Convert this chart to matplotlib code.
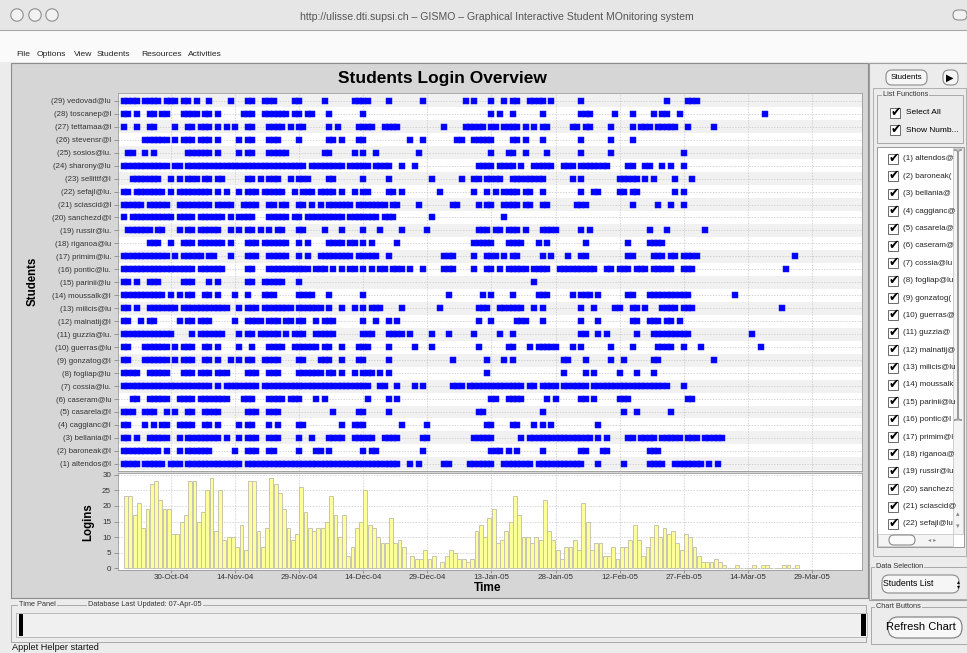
import matplotlib
matplotlib.use("Agg")
import matplotlib.pyplot as plt
from matplotlib.patches import Rectangle, FancyBboxPatch, Circle
from matplotlib.path import Path
import numpy as np
from datetime import datetime

W, H = 967, 653
plt.rcParams['font.family'] = ['Liberation Sans', 'DejaVu Sans']

# ---------------- data ----------------
start_date = "19-Oct-04"

students = ["(1) altendos@l", "(2) baroneak@l", "(3) bellania@l", "(4) caggianc@l",
            "(5) casarela@l", "(6) caseram@lu", "(7) cossia@lu.", "(8) fogliap@lu",
            "(9) gonzatog@l", "(10) guerras@lu", "(11) guzzia@lu.", "(12) malnatij@l",
            "(13) milicis@lu", "(14) moussalk@l", "(15) parinii@lu", "(16) pontic@lu.",
            "(17) primim@lu.", "(18) riganoa@lu", "(19) russir@lu.", "(20) sanchezd@l",
            "(21) sciascid@l", "(22) sefajl@lu.", "(23) sellittf@l", "(24) sharony@lu",
            "(25) sosios@lu.", "(26) stevensr@l", "(27) tettamaa@l", "(28) toscanep@l",
            "(29) vedovad@lu"]

# login days per student (day offsets from start_date), same order as students
login_days = [
    "0-3,5-9,11-13,15-27,29-64,67,69,75-76,81-86,89-95,97-107,111,117,123-126,129-135,137,139",
    "0-8,10,13,15-20,26,29-31,34-35,41,45-46,48,56,58-59,70,86-88,90,92,98,107-108,112-113,123-125",
    "0-1,3,6-10,13,15-22,24,27,29-31,34-36,41,44,48-51,54-58,61-64,70-71,82-86,93,95-109,111,113,118-119,121-124,126-130,132-134,136-140",
    "0-1,5,7,9-10,13-16,19-20,22,27,29-30,34,36,41-42,51,54-56,65,71,85-86,91-92,96,98,100,111",
    "0-2,5-7,10,12,15-16,19-22,29-31,34-36,49,55-56,62,83-84,98,117,120,128",
    "2-3,6-10,13-16,18-24,28-30,34-37,39-41,45,47,57,62,64,86-87,90-93,99,101,107-108,110,116-118,132-133",
    "0-20,22,24-31,33-57,60-61,64,68,70,77-79,81-93,95-96,98-101,103-108,110-127,131",
    "0-3,6-10,14-16,18-20,22-24,29-31,34-36,41-46,48-49,51,54,56-58,60,62,85,103,108,110,116,120,124",
    "0-1,5-10,12,14-16,19-20,22,25,27,29-30,33-36,41-42,46-48,51,55-56,62,77,85,89,91,103-104,108,114,117,124-125,138",
    "0-1,5-10,12,14-16,19-20,22,27,30,34-37,40-45,47-48,51,55-57,62,68,72,83,90-91,95,97-101,105,107,114,119,125-128,131,135,149",
    "0-11,16,18-23,27,29-30,32-36,38,40-42,45-49,56-58,62-65,67,72,76,82,88,91,107-108,111,113,120,124-132,147",
    "0-1,4,6-7,13,15-16,18-20,26,29-32,34-36,38-39,41-42,45,47-49,56,59,62,64,83,86,92-94,98,107,111,119-120,123-125,127-128,130",
    "0-1,3,6-12,14-24,27,29-31,33-39,41-46,48,51,54,56,58-60,65,74,83-85,88-93,96,98,107,110,115-116,119-120,122,126-129,131-133,154",
    "0-9,11,13,15-16,19-20,22,26,29,33-35,41-44,48,56,76,84,86,91,97-99,105,107-109,111,118-119,123-132,143",
    "0-1,3,6-8,14-16,20,22,29-30,33-37,41,96",
    "0-16,18-23,29-30,34-43,45-47,49,51,53-54,56,58,60-61,63-65,67,70,75-77,82,85-86,88,90-94,96-99,102-110,113-114,116-118,120-122,124-128,131-133,155",
    "0-10,12,14-18,20-21,25,29-31,34-38,41,43,46-53,55-59,62,75-77,82,85-87,89,91-92,98,100,104,107-108,118-119,124-126,128-129,131-134,157",
    "6-8,11,14-16,18-23,25,29-31,33-38,41,43,48-51,53-54,56,58,64,82-86,90-93,97,99,108,118,123-126",
    "1-6,8-9,13,15-16,18-22,25,27,29-30,32,34,36-37,41-42,47,51,56,60,65,71,83-85,87-88,90-92,94,98-101,107,109,123,127,136",
    "0,2-11,13-16,18-23,25,27-30,34-38,40-41,43-51,53-59,61-63,72,89",
    "0-4,6-10,13-20,22-25,28-31,34-35,37-38,41-42,44,46,48-53,55-61,63-64,69,77-78,83,85-86,89-92,94-95,98-99,106-108,119,125,128,131",
    "0-1,3-9,11,13-20,22,24,27,29-31,33-37,40,42-44,46-49,51,54,56-57,62-63,65,74,82,85,87,89-92,94-95,98,107,110-111,116-117,119-120,129,131",
    "2-8,11,13,15-17,19-20,22-23,29-30,32,34-36,39,41-43,48-49,56,62,72,79,82-83,85-88,91-98,105,107,116-120,122,124,129,133",
    "0-10,12-13,15-42,44-51,53-57,59-62,65,68,83-86,88-91,93,96-100,103-105,107-113,118-119,122-123,126,128,131",
    "1-2,5,7,15-20,22,27,29-30,34-38,47-48,54,56,59,69,86,90-91,94,99,107,114,131",
    "5-10,12,14-16,18-20,22,27,29-30,34-36,41,48-49,51,55-56,67,70,78-79,82-86,91-92,94,98,107,114,119",
    "0,3,6-7,12,15-16,18-20,22,24,26,29-30,34-37,39,41-42,48,50,55-58,61-64,75,80-84,86-87,89-92,94,96,98-99,105-106,108-109,114,119,121-123,125-129,132,138",
    "0-1,3,6-7,9-10,14-17,19-20,22,28-30,33-38,40-41,43-44,48,56,86,88,91,98,107-109,115,119,124,126-127,130,150",
    "0-3,5-8,10-12,14-15,17,20,25,29-30,33-35,40-41,47,54-57,62,70,80,82,86,89,91-92,95-98,100,107,127,132-134",
]

# daily logins from start_date
daily_logins = [23, 23, 17, 21, 13, 19, 27, 28, 22, 19, 19, 11, 11, 15, 17, 28, 28, 15, 18, 25,
                29, 12, 25, 9, 10, 10, 7, 14, 6, 28, 28, 12, 7, 13, 29, 27, 24, 19, 13, 9,
                11, 26, 18, 13, 12, 13, 13, 15, 23, 17, 10, 17, 4, 7, 13, 15, 25, 14, 13, 10,
                8, 8, 16, 8, 9, 7, 0, 4, 3, 3, 6, 3, 4, 0, 2, 4, 6, 5, 3, 3,
                2, 3, 12, 14, 10, 16, 19, 8, 9, 12, 15, 23, 17, 10, 10, 8, 10, 9, 22, 12,
                9, 6, 3, 7, 7, 9, 6, 21, 15, 6, 8, 8, 4, 4, 7, 3, 7, 7, 9, 14,
                9, 4, 7, 10, 14, 10, 13, 11, 12, 8, 6, 11, 10, 7, 4, 2, 2, 2, 3, 2,
                1, 0, 0, 1, 0, 0, 0, 1, 0, 1, 1, 0, 0, 0, 1, 1, 0, 1]

date_ticks = ["30-Oct-04", "14-Nov-04", "29-Nov-04", "14-Dec-04", "29-Dec-04", "13-Jan-05",
              "28-Jan-05", "12-Feb-05", "27-Feb-05", "14-Mar-05", "29-Mar-05"]
login_ticks = [0, 5, 10, 15, 20, 25, 30]

sidebar_items = ["(1) altendos@", "(2) baroneak(", "(3) bellania@", "(4) caggianc@",
                 "(5) casarela@", "(6) caseram@", "(7) cossia@lu", "(8) fogliap@lu",
                 "(9) gonzatog(", "(10) guerras@", "(11) guzzia@", "(12) malnatij@",
                 "(13) milicis@lu", "(14) moussalk", "(15) parinii@lu", "(16) pontic@l",
                 "(17) primim@l", "(18) riganoa@", "(19) russir@lu", "(20) sanchezc",
                 "(21) sciascid@", "(22) sefajl@lu"]
menu_items = ["File", "Options", "View", "Students", "Resources", "Activities"]


# ---------------- helpers ----------------
def day_of(s):
    d0 = datetime.strptime(start_date, "%d-%b-%y")
    return (datetime.strptime(s, "%d-%b-%y") - d0).days


def parse_runs(spec):
    out = []
    for part in spec.split(','):
        if '-' in part:
            a, b = part.split('-')
            out.extend(range(int(a), int(b) + 1))
        else:
            out.append(int(part))
    return out


def rect_px(x0, y0, x1, y1):
    return [x0 / W, 1 - y1 / H, (x1 - x0) / W, (y1 - y0) / H]


fig = plt.figure(figsize=(W / 100, H / 100), dpi=100)
fig.patch.set_facecolor('#ececec')

bg = fig.add_axes([0, 0, 1, 1])
bg.set_xlim(0, W)
bg.set_ylim(H, 0)
bg.axis('off')


def box(x0, y0, x1, y1, fc, ec='none', lw=0.8, z=1):
    bg.add_patch(Rectangle((x0, y0), x1 - x0, y1 - y0, facecolor=fc, edgecolor=ec, lw=lw, zorder=z))


def pill(x0, y0, x1, y1, fc='#f6f6f6', ec='#8a8a8a', lw=0.8, z=3, r=7):
    bg.add_patch(FancyBboxPatch((x0 + r, y0), x1 - x0 - 2 * r, y1 - y0,
                                boxstyle=f"round,pad=0,rounding_size={r}",
                                mutation_aspect=1, facecolor=fc, edgecolor=ec, lw=lw, zorder=z))


def group(x0, y0, x1, y1, title, tx=None, z=2):
    box(x0, y0, x1, y1, 'none', '#a8a8a8', 0.7, z)
    if title:
        bg.text(tx if tx else x0 + 6, y0, title, fontsize=5.3, color='#333', va='center', ha='left',
                zorder=z + 1, bbox=dict(boxstyle='square,pad=0.15', fc='#ececec', ec='none'))


def checkbox(x, y, z=4):
    box(x, y - 5, x + 10, y + 5, 'white', '#6a6a6a', 0.7, z)
    bg.text(x + 5.5, y - 0.5, '\u2714', fontsize=9, color='black', ha='center', va='center',
            family='DejaVu Sans', zorder=z + 1)


# ---------------- window chrome ----------------
box(0, 0, W, 30, '#e6e6e6')
bg.plot([0, W], [30, 30], color='#a8a8a8', lw=0.8, zorder=2)
for cx in (17, 35, 52):
    bg.add_patch(Circle((cx, 15), 6.2, facecolor='#f2f2f2', edgecolor='#8e8e8e', lw=0.8, zorder=3))
pill(948, 10, 972, 20, fc='#f2f2f2', ec='#8e8e8e', r=5)
bg.text(497, 17, "http://ulisse.dti.supsi.ch \u2013 GISMO \u2013 Graphical Interactive Student MOnitoring system",
        fontsize=7.6, color='#555555', ha='center', va='center', zorder=3)
box(0, 31, W, 62, '#fafafa')
menu_x = [16, 37, 74, 97, 141, 188]
for mx, item in zip(menu_x, menu_items):
    bg.text(mx, 55, item, fontsize=6.1, color='#222', ha='left', va='center', zorder=3)

# main chart panel
box(11, 63, 868, 598, '#d6d6d6', '#8c8c8c', 0.8)
# sidebar
box(869, 63, W, 600, '#ececec', '#a0a0a0', 0.8)
box(873, 88, 966, 556, '#ececec', '#b0b0b0', 0.7)
pill(880, 70, 933, 85, r=6)
bg.text(906.5, 77.5, "Students", fontsize=5.8, ha='center', va='center', zorder=5)
pill(937, 70, 964, 85, r=6)
bg.text(950, 77.5, "\u25B6", fontsize=7, ha='center', va='center', family='DejaVu Sans', zorder=5)
group(877, 95, 963, 143, "List Functions")
checkbox(890, 113)
bg.text(906, 113, "Select All", fontsize=6, ha='left', va='center', zorder=5)
checkbox(890, 130)
bg.text(906, 130, "Show Numb...", fontsize=6, ha='left', va='center', zorder=5)
box(877, 147, 964, 547, 'white', '#9a9a9a', 0.7, 2)
for i, item in enumerate(sidebar_items):
    yy = 159 + 17.38 * i
    checkbox(888, yy)
    t = bg.text(903, yy, item, fontsize=5.8, color='#222', ha='left', va='center', zorder=5)
    t.set_clip_path(Rectangle((877, 147), 77, 400, transform=bg.transData))
# vertical scrollbar
box(953, 148, 963, 534, '#f4f4f4', '#c8c8c8', 0.6, 4)
pill(954, 150, 962, 420, fc='#fbfbfb', ec='#9a9a9a', r=4, z=5)
bg.text(958, 514, "\u25B4", fontsize=5, color='#888', ha='center', va='center', family='DejaVu Sans', zorder=6)
bg.text(958, 526, "\u25BE", fontsize=5, color='#888', ha='center', va='center', family='DejaVu Sans', zorder=6)
# horizontal scrollbar
box(878, 534, 953, 546, '#f4f4f4', '#c8c8c8', 0.6, 4)
pill(884, 535, 920, 545, fc='#fbfbfb', ec='#8a8a8a', r=5, z=5)
bg.text(932, 540, "\u25C2 \u25B8", fontsize=4.5, color='#888', ha='center', va='center', family='DejaVu Sans', zorder=6)

group(871, 567, 967, 599, "Data Selection", tx=876)
pill(875, 575, 966, 593, r=7)
bg.text(883, 584, "Students List", fontsize=6.3, ha='left', va='center', zorder=5)
bg.text(958, 584, "\u25B4\n\u25BE", fontsize=4.2, ha='center', va='center', family='DejaVu Sans',
        linespacing=0.9, zorder=5)
group(871, 607, 967, 644, "Chart Buttons", tx=876)
pill(878, 617, 972, 638, fc='#f8f8f8', ec='#7a7a7a', r=10)
bg.text(921, 627, "Refresh Chart", fontsize=8, ha='center', va='center', zorder=5)

# time panel
group(11, 605, 866, 642, "", z=2)
bg.text(19, 605, "Time Panel", fontsize=5.3, color='#333', va='center', ha='left', zorder=4,
        bbox=dict(boxstyle='square,pad=0.15', fc='#ececec', ec='none'))
bg.text(88, 605, "Database Last Updated: 07-Apr-05", fontsize=5.3, color='#333', va='center', ha='left',
        zorder=4, bbox=dict(boxstyle='square,pad=0.15', fc='#ececec', ec='none'))
box(16, 613, 867, 637, '#f0f0f0', '#b0b0b0', 0.6, 3)
box(19, 614, 23, 636, 'black', z=4)
box(861, 614, 866, 636, 'black', z=4)
bg.text(12, 648, "Applet Helper started", fontsize=6.6, color='#111', ha='left', va='center', zorder=3)

# chart texts
bg.text(442, 79, "Students Login Overview", fontsize=12.5, fontweight='bold', ha='center', va='center', zorder=3)
bg.text(33, 281, "Students", fontsize=8.3, fontweight='bold', rotation=90, ha='center', va='center', zorder=3)
bg.text(88, 522, "Logins", fontsize=8.3, fontweight='bold', rotation=90, ha='center', va='center', zorder=3)
bg.text(488, 588, "Time", fontsize=8.6, fontweight='bold', ha='center', va='center', zorder=3)

# ---------------- charts ----------------
xmin, xmax = -1.4, 172.7
tick_pos = [day_of(s) for s in date_ticks]
grid_kw = dict(color='#c4c4c4', lw=0.5, ls=(0, (2, 2)))

ax1 = fig.add_axes(rect_px(118, 93, 862, 471))
ax1.set_facecolor('white')
ax1.set_xlim(xmin, xmax)
ax1.set_ylim(0.45, 29.6)
for k in range(1, len(students) + 1, 2):
    ax1.axhspan(k - 0.5, k + 0.5, color='#f0f1f0', lw=0, zorder=0)
ax1.set_yticks(range(1, len(students) + 1))
ax1.set_yticklabels(students, fontsize=5.6, color='#333')
ax1.set_xticks(tick_pos)
ax1.set_xticklabels([])
ax1.tick_params(axis='x', length=0)
ax1.tick_params(axis='y', length=3, width=0.6, color='#888', pad=2)
for yv in range(1, len(students) + 1):
    ax1.axhline(yv, zorder=0.5, **grid_kw)
for xv in tick_pos:
    ax1.axvline(xv, zorder=0.5, **grid_kw)
rect_marker = Path([(-3, -2.6), (3, -2.6), (3, 2.6), (-3, 2.6), (-3, -2.6)],
                   [Path.MOVETO, Path.LINETO, Path.LINETO, Path.LINETO, Path.CLOSEPOLY])
for i, spec in enumerate(login_days):
    days = parse_runs(spec)
    ax1.plot(days, [i + 1] * len(days), ls='none', marker=rect_marker, ms=4.5,
             color='#0000ff', mec='#1a1aff', mew=0.35, zorder=3)
for sp in ax1.spines.values():
    sp.set_color('#9a9a9a')
    sp.set_linewidth(0.6)

ax2 = fig.add_axes(rect_px(118, 473, 862, 570))
ax2.set_facecolor('white')
ax2.set_xlim(xmin, xmax)
ax2.set_ylim(-0.5, 30.5)
xs = np.arange(len(daily_logins))
ax2.bar(xs + 0.04, daily_logins, width=0.9, align='edge', color='#ffff99',
        edgecolor='#bdbdb0', lw=0.6, zorder=3)
ax2.set_yticks(login_ticks)
ax2.set_yticklabels([str(v) for v in login_ticks], fontsize=5.8, color='#333')
ax2.set_xticks(tick_pos)
ax2.set_xticklabels(date_ticks, fontsize=5.8, color='#333')
ax2.tick_params(axis='y', length=3, width=0.6, color='#888', pad=2)
ax2.tick_params(axis='x', length=2, width=0.6, color='#888', pad=1)
for yv in login_ticks[1:]:
    ax2.axhline(yv, zorder=0.5, **grid_kw)
for xv in tick_pos:
    ax2.axvline(xv, zorder=0.5, **grid_kw)
for sp in ax2.spines.values():
    sp.set_color('#9a9a9a')
    sp.set_linewidth(0.6)

fig.savefig("out.png", dpi=100, facecolor=fig.get_facecolor())
